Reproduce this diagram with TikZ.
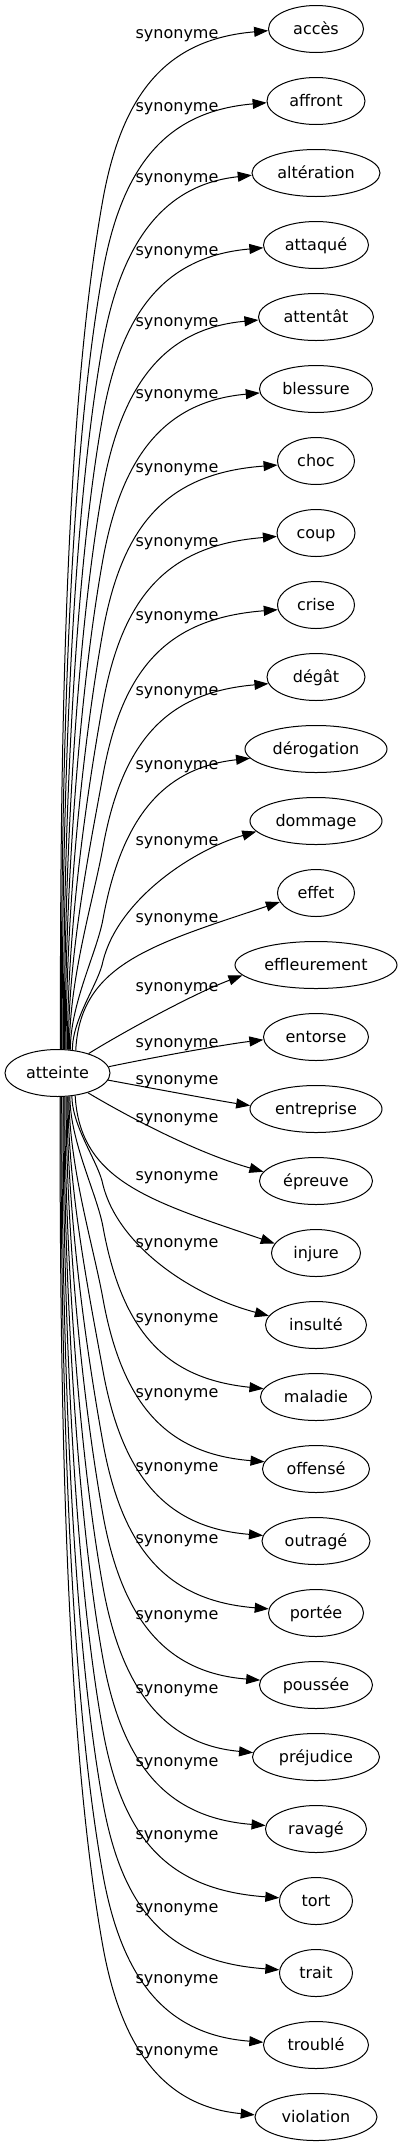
\documentclass[tikz,border=0pt]{standalone}
\usepackage{fontspec}
\setmainfont{DejaVu Sans}
\usetikzlibrary{shapes.geometric,arrows.meta}
\tikzset{
  syn/.style={ellipse, draw, line width=1pt, inner sep=0pt, minimum height=47pt, text height=14pt, text depth=3pt},
  lbl/.style={inner sep=0pt, anchor=base},
  synedge/.style={draw, line width=1pt, -{Triangle[length=14pt,width=10pt]}}
}
\begin{document}
\begin{tikzpicture}[x=1pt, y=-1pt, font=\fontsize{16pt}{19pt}\selectfont]
\useasboundingbox (0,0) rectangle (402,2147);
% source
\node[syn, minimum width=105pt] (src) at (57.5,1073) {atteinte};
% targets
\node[syn, minimum width=95pt]  (t0)  at (316,29)   {accès};
\node[syn, minimum width=98pt]  (t1)  at (316,101)  {affront};
\node[syn, minimum width=128pt] (t2)  at (316,173)  {altération};
\node[syn, minimum width=105pt] (t3)  at (316,245)  {attaqué};
\node[syn, minimum width=115pt] (t4)  at (316,317)  {attentât};
\node[syn, minimum width=113pt] (t5)  at (316,389)  {blessure};
\node[syn, minimum width=77pt]  (t6)  at (316,461)  {choc};
\node[syn, minimum width=78pt]  (t7)  at (316,533)  {coup};
\node[syn, minimum width=77pt]  (t8)  at (316,605)  {crise};
\node[syn, minimum width=98pt]  (t9)  at (316,677)  {dégât};
\node[syn, minimum width=142pt] (t10) at (316,749)  {dérogation};
\node[syn, minimum width=132pt] (t11) at (316,821)  {dommage};
\node[syn, minimum width=77pt]  (t12) at (316,893)  {effet};
\node[syn, minimum width=162pt] (t13) at (316,965)  {effleurement};
\node[syn, minimum width=105pt] (t14) at (316,1037) {entorse};
\node[syn, minimum width=132pt] (t15) at (316,1109) {entreprise};
\node[syn, minimum width=113pt] (t16) at (316,1181) {épreuve};
\node[syn, minimum width=89pt]  (t17) at (316,1253) {injure};
\node[syn, minimum width=101pt] (t18) at (316,1325) {insulté};
\node[syn, minimum width=111pt] (t19) at (316,1397) {maladie};
\node[syn, minimum width=107pt] (t20) at (316,1469) {offensé};
\node[syn, minimum width=108pt] (t21) at (316,1541) {outragé};
\node[syn, minimum width=95pt]  (t22) at (316,1613) {portée};
\node[syn, minimum width=113pt] (t23) at (316,1685) {poussée};
\node[syn, minimum width=127pt] (t24) at (316,1757) {préjudice};
\node[syn, minimum width=101pt] (t25) at (316,1829) {ravagé};
\node[syn, minimum width=73pt]  (t26) at (316,1901) {tort};
\node[syn, minimum width=73pt]  (t27) at (316,1973) {trait};
\node[syn, minimum width=105pt] (t28) at (316,2045) {troublé};
\node[syn, minimum width=122pt] (t29) at (316,2117) {violation};
% labels
\node[lbl] (l0)  at (177,38)   {synonyme};
\node[lbl] (l1)  at (177,111)  {synonyme};
\node[lbl] (l2)  at (177,182)  {synonyme};
\node[lbl] (l3)  at (177,255)  {synonyme};
\node[lbl] (l4)  at (177,326)  {synonyme};
\node[lbl] (l5)  at (177,398)  {synonyme};
\node[lbl] (l6)  at (177,472)  {synonyme};
\node[lbl] (l7)  at (177,546)  {synonyme};
\node[lbl] (l8)  at (177,620)  {synonyme};
\node[lbl] (l9)  at (177,695)  {synonyme};
\node[lbl] (l10) at (177,769)  {synonyme};
\node[lbl] (l11) at (177,845)  {synonyme};
\node[lbl] (l12) at (177,922)  {synonyme};
\node[lbl] (l13) at (177,991)  {synonyme};
\node[lbl] (l14) at (177,1047) {synonyme};
\node[lbl] (l15) at (177,1084) {synonyme};
\node[lbl] (l16) at (177,1122) {synonyme};
\node[lbl] (l17) at (177,1180) {synonyme};
\node[lbl] (l18) at (177,1247) {synonyme};
\node[lbl] (l19) at (177,1322) {synonyme};
\node[lbl] (l20) at (177,1397) {synonyme};
\node[lbl] (l21) at (177,1471) {synonyme};
\node[lbl] (l22) at (177,1543) {synonyme};
\node[lbl] (l23) at (177,1619) {synonyme};
\node[lbl] (l24) at (177,1693) {synonyme};
\node[lbl] (l25) at (177,1766) {synonyme};
\node[lbl] (l26) at (177,1839) {synonyme};
\node[lbl] (l27) at (177,1912) {synonyme};
\node[lbl] (l28) at (177,1983) {synonyme};
\node[lbl] (l29) at (177,2055) {synonyme};
% edges, upper half
\draw[synedge] (src.83.9) .. controls (60,751.8) and (64.7,411.6) .. (103,199) .. controls (123,89) and (170,39) .. (t0.182.4);
\draw[synedge] (src.81.5) .. controls (61,777.1) and (68,465.6) .. (103,271) .. controls (123,161) and (170,111) .. (t1.182.3);
\draw[synedge] (src.79.2) .. controls (62,802.3) and (71.2,519.7) .. (103,343) .. controls (123,233) and (170,184) .. (t2.182.7);
\draw[synedge] (src.76.9) .. controls (63,827.5) and (74.4,573.7) .. (103,415) .. controls (123,305) and (170,256) .. (t3.183.3);
\draw[synedge] (src.74.6) .. controls (64,852.7) and (77.7,627.7) .. (103,487) .. controls (123,377) and (170,328) .. (t4.183);
\draw[synedge] (src.72.3) .. controls (65,877.9) and (80.9,681.7) .. (103,559) .. controls (123,449) and (170,401) .. (t5.184.1);
\draw[synedge] (src.70.0) .. controls (66,903.2) and (84.2,735.7) .. (103,631) .. controls (123,521) and (170,473) .. (t6.186);
\draw[synedge] (src.67.8) .. controls (67,928.5) and (87.4,789.7) .. (103,703) .. controls (123,593) and (170,545) .. (t7.185.9);
\draw[synedge] (src.65.6) .. controls (68,953.8) and (90.6,843.8) .. (103,775) .. controls (123,665) and (170,618) .. (t8.187.6);
\draw[synedge] (src.63.3) .. controls (69,979) and (93.9,897.8) .. (103,847) .. controls (123,737) and (170,692) .. (t9.188.5);
\draw[synedge] (src.61.3) .. controls (70,1004.3) and (97.1,951.8) .. (103,919) .. controls (123,809) and (170,767) .. (t10.188.8);
\draw[synedge] (src.57.5) .. controls (72,1019) and (99,983) .. (103,961) .. controls (118,901) and (190,851) .. (t11.190.7);
\draw[synedge] (src.51.4) .. controls (80,965) and (150,945) .. (t12.194.2);
\draw[synedge] (src.32.1) .. controls (115,1037) and (190,995) .. (t13.188.7);
\draw[synedge] (src.7.95) .. controls (140,1060) and (220,1045) .. (t14.183.3);
% edges, lower half
\draw[synedge] (src.352.05) .. controls (140,1086) and (220,1101) .. (t15.177.4);
\draw[synedge] (src.327.9) .. controls (115,1109) and (190,1151) .. (t16.170.2);
\draw[synedge] (src.308.6) .. controls (80,1181) and (150,1201) .. (t17.167.6);
\draw[synedge] (src.302.5) .. controls (72,1127) and (99,1163) .. (103,1185) .. controls (118,1245) and (190,1295) .. (t18.169.1);
\draw[synedge] (src.298.7) .. controls (70,1141.7) and (97.1,1194.2) .. (103,1227) .. controls (123,1337) and (170,1379) .. (t19.171.3);
\draw[synedge] (src.296.7) .. controls (69,1167) and (93.9,1248.2) .. (103,1299) .. controls (123,1409) and (170,1454) .. (t20.172.2);
\draw[synedge] (src.294.4) .. controls (68,1192.2) and (90.6,1302.2) .. (103,1371) .. controls (123,1481) and (170,1528) .. (t21.174.6);
\draw[synedge] (src.292.2) .. controls (67,1217.5) and (87.4,1356.3) .. (103,1443) .. controls (123,1553) and (170,1601) .. (t22.175.1);
\draw[synedge] (src.290) .. controls (66,1242.8) and (84.2,1410.3) .. (103,1515) .. controls (123,1625) and (170,1673) .. (t23.175.9);
\draw[synedge] (src.287.7) .. controls (65,1268.1) and (80.9,1464.3) .. (103,1587) .. controls (123,1697) and (170,1745) .. (t24.176.3);
\draw[synedge] (src.285.4) .. controls (64,1293.3) and (77.7,1518.3) .. (103,1659) .. controls (123,1769) and (170,1818) .. (t25.176.6);
\draw[synedge] (src.283.1) .. controls (63,1318.5) and (74.4,1572.3) .. (103,1731) .. controls (123,1841) and (170,1890) .. (t26.175.3);
\draw[synedge] (src.280.8) .. controls (62,1343.7) and (71.2,1626.3) .. (103,1803) .. controls (123,1913) and (170,1962) .. (t27.175.3);
\draw[synedge] (src.278.5) .. controls (61,1368.9) and (68,1680.4) .. (103,1875) .. controls (123,1985) and (170,2035) .. (t28.177.8);
\draw[synedge] (src.276.1) .. controls (60,1394.2) and (64.7,1734.4) .. (103,1947) .. controls (123,2057) and (170,2107) .. (t29.178.1);
\end{tikzpicture}
\end{document}
